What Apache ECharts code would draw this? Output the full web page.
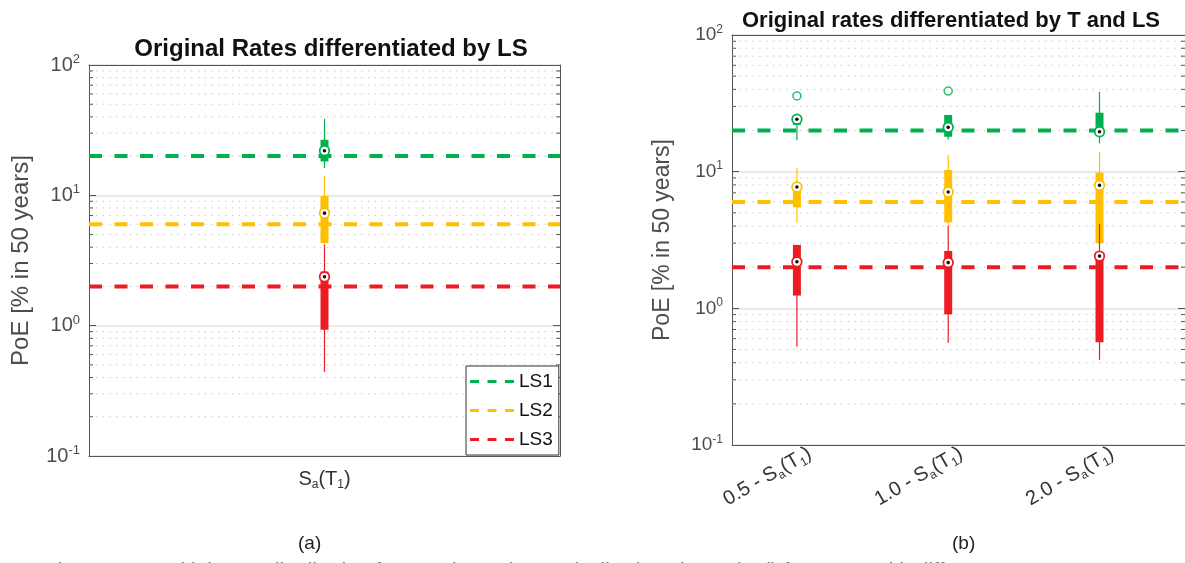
<!DOCTYPE html>
<html><head><meta charset="utf-8">
<script src="https://cdn.jsdelivr.net/npm/echarts@6/dist/echarts.min.js"></script>
<style>html,body{margin:0;padding:0;background:#fff}#c{width:1185px;height:563px}</style>
</head><body><div id="c"></div><script>
// ---------- data ----------
const lsNames = ['LS1', 'LS2', 'LS3'];
const lsColors = ['#00b050', '#ffc000', '#ed1c24'];
const lsThresholds = [20, 6, 2];
const leftCategories = ['S_a(T_1)'];
const rightCategories = ['0.5', '1.0', '2.0'];
// [low whisker, q1, median, q3, high whisker]
const leftLS1 = [[16.2, 18.2, 22.0, 26.7, 38.6]];
const leftLS2 = [[4.3, 4.3, 7.3, 9.9, 14.1]];
const leftLS3 = [[0.44, 0.93, 2.37, 2.6, 4.19]];
const rightLS1 = [[17.0, 22.0, 24.2, 25.8, 25.8], [17.3, 18.0, 21.1, 26.0, 26.0], [16.1, 19.5, 19.6, 27.0, 38.3]];
const rightLS2 = [[4.19, 5.48, 7.73, 8.0, 10.6], [4.0, 4.26, 7.1, 10.3, 13.2], [2.99, 2.99, 7.94, 9.83, 14.0]];
const rightLS3 = [[0.524, 1.24, 2.19, 2.91, 2.91], [0.561, 0.904, 2.16, 2.63, 4.0], [0.42, 0.564, 2.41, 2.5, 4.14]];
const rightLS1Outliers = [[1, 35.8], [2, 38.9]];
const minorTicks = [0.2, 0.3, 0.4, 0.5, 0.6, 0.7, 0.8, 0.9, 2, 3, 4, 5, 6, 7, 8, 9, 20, 30, 40, 50, 60, 70, 80, 90];
const yMin = 0.1, yMax = 100;
const xRangeLeft = [0.5, 1.5];
const xRangeRight = [0.571, 3.565];
const rightLabelPositions = [1.085, 2.085, 3.085];

// ---------- helpers ----------
const FONT = 'Liberation Sans, Arial, Helvetica, sans-serif';
const labelGray = '#4d4d4d';
const axisGray = '#555';

function supLabel(v) {
  return '{b|10}{s|' + Math.round(Math.log10(v)) + '}';
}
function saLabel(prefix) {
  return (prefix ? '{m|' + prefix + ' - S}' : '{m|S}') + '{sub|a}{m|(T}{sub|1}{m|)}';
}
const saRich = {
  m: { fontSize: 20, color: '#333', lineHeight: 24, fontFamily: FONT },
  sub: { fontSize: 12, color: '#333', lineHeight: 12, verticalAlign: 'bottom', fontFamily: FONT }
};

function makeGridDecor(xMin) {
  return function (params, api) {
    const cs = params.coordSys;
    const y = api.coord([xMin, api.value(1)])[1];
    return {
      type: 'group',
      children: [
        { type: 'line', shape: { x1: cs.x, y1: y, x2: cs.x + cs.width, y2: y },
          style: { stroke: '#c8c8c8', lineWidth: 1, lineDash: [1.5, 5.3] } },
        { type: 'line', shape: { x1: cs.x, y1: y, x2: cs.x + 4, y2: y },
          style: { stroke: axisGray, lineWidth: 1 } },
        { type: 'line', shape: { x1: cs.x + cs.width - 4, y1: y, x2: cs.x + cs.width, y2: y },
          style: { stroke: axisGray, lineWidth: 1 } }
      ]
    };
  };
}

function renderBox(params, api) {
  const x = api.value(0);
  const pLow = api.coord([x, api.value(1)]);
  const pQ1 = api.coord([x, api.value(2)]);
  const pMed = api.coord([x, api.value(3)]);
  const pQ3 = api.coord([x, api.value(4)]);
  const pHigh = api.coord([x, api.value(5)]);
  const color = api.visual('color');
  return {
    type: 'group',
    children: [
      { type: 'line', shape: { x1: pLow[0], y1: pLow[1], x2: pHigh[0], y2: pHigh[1] },
        style: { stroke: color, lineWidth: 1.2 } },
      { type: 'rect', shape: { x: pQ1[0] - 4, y: pQ3[1], width: 8, height: Math.max(pQ1[1] - pQ3[1], 0) },
        style: { fill: color } },
      { type: 'circle', shape: { cx: pMed[0], cy: pMed[1], r: 4.8 },
        style: { fill: '#fff', stroke: color, lineWidth: 1.8 } },
      { type: 'circle', shape: { cx: pMed[0], cy: pMed[1], r: 1.8 },
        style: { fill: '#111' } }
    ]
  };
}

function yAxes(gridIndex, nameGap, labelSize, nameSize) {
  const base = {
    type: 'log', logBase: 10, min: yMin, max: yMax, gridIndex: gridIndex
  };
  return [
    Object.assign({}, base, {
      position: 'left',
      axisLine: { show: true, lineStyle: { color: axisGray, width: 1 } },
      axisTick: { show: true, inside: true, length: 7, lineStyle: { color: axisGray } },
      axisLabel: {
        formatter: supLabel, margin: 9,
        rich: {
          b: { fontSize: labelSize, color: labelGray, lineHeight: labelSize + 4, fontFamily: FONT },
          s: { fontSize: Math.round(labelSize * 0.65), color: labelGray, lineHeight: 12, verticalAlign: 'top', fontFamily: FONT }
        }
      },
      splitLine: { show: true, lineStyle: { color: '#e2e2e2', width: 1.5 } },
      name: 'PoE [% in 50 years]', nameLocation: 'middle', nameGap: nameGap,
      nameTextStyle: { fontSize: nameSize, color: labelGray, fontFamily: FONT }
    }),
    Object.assign({}, base, {
      position: 'right',
      axisLine: { show: true, lineStyle: { color: axisGray, width: 1 } },
      axisTick: { show: true, inside: true, length: 7, lineStyle: { color: axisGray } },
      axisLabel: { show: false },
      splitLine: { show: false }
    })
  ];
}

function xAxes(gridIndex, range, customValues, formatter, rotate, margin) {
  return [
    {
      type: 'value', gridIndex: gridIndex, min: range[0], max: range[1], position: 'bottom',
      axisLine: { show: true, onZero: false, lineStyle: { color: axisGray, width: 1 } },
      axisTick: { show: false },
      splitLine: { show: false },
      axisLabel: { customValues: customValues, formatter: formatter, rotate: rotate, margin: margin, rich: saRich }
    },
    {
      type: 'value', gridIndex: gridIndex, min: range[0], max: range[1], position: 'top',
      axisLine: { show: true, onZero: false, lineStyle: { color: axisGray, width: 1 } },
      axisTick: { show: false }, axisLabel: { show: false }, splitLine: { show: false }
    }
  ];
}

function leftLabel(v) { return saLabel(''); }
function rightLabel(v) { return saLabel(rightCategories[Math.round(v) - 1]); }

const series = [];
function addChart(xIdx, yIdx, range, boxes, outliers) {
  series.push({
    type: 'custom', xAxisIndex: xIdx, yAxisIndex: yIdx, silent: true, z: 1,
    renderItem: makeGridDecor(range[0]),
    data: minorTicks.map(v => [range[0], v]),
    encode: { x: 0, y: 1 }
  });
  lsNames.forEach((n, i) => {
    series.push({
      type: 'line', name: n, xAxisIndex: xIdx, yAxisIndex: yIdx, z: 2,
      symbol: 'none', silent: true,
      data: [[range[0], lsThresholds[i]], [range[1], lsThresholds[i]]],
      lineStyle: { color: lsColors[i], width: 4, type: [13, 12.5] },
      itemStyle: { color: lsColors[i] }
    });
  });
  boxes.forEach((arr, i) => {
    series.push({
      type: 'custom', name: lsNames[i] + ' box', xAxisIndex: xIdx, yAxisIndex: yIdx, z: 3 + i,
      renderItem: renderBox,
      itemStyle: { color: lsColors[i] },
      data: arr.map((d, k) => [k + 1].concat(d)),
      encode: { x: 0, y: [1, 2, 3, 4, 5] }
    });
  });
  if (outliers) {
    series.push({
      type: 'scatter', name: 'LS1 outliers', xAxisIndex: xIdx, yAxisIndex: yIdx, z: 6,
      symbol: 'circle', symbolSize: 8,
      itemStyle: { color: '#fff', borderColor: lsColors[0], borderWidth: 1.6 },
      data: outliers
    });
  }
}
addChart(0, 0, xRangeLeft, [leftLS1, leftLS2, leftLS3], null);
addChart(2, 2, xRangeRight, [rightLS1, rightLS2, rightLS3], rightLS1Outliers);

const dashIcon = 'path://M0,0h9v3h-9z M17.5,0h9v3h-9z M35,0h9v3h-9z';

const option = {
  animation: false,
  backgroundColor: '#fff',
  textStyle: { fontFamily: FONT },
  title: [
    { text: 'Original Rates differentiated by LS', left: 326, top: 32, textAlign: 'center',
      textStyle: { fontSize: 24, fontWeight: 'bold', color: '#111', fontFamily: FONT } },
    { text: 'Original rates differentiated by T and LS', left: 946, top: 5, textAlign: 'center',
      textStyle: { fontSize: 22, fontWeight: 'bold', color: '#111', fontFamily: FONT } }
  ],
  legend: {
    orient: 'vertical', left: 466, top: 366,
    data: lsNames.map(n => ({ name: n, icon: dashIcon })),
    itemWidth: 44, itemHeight: 3, itemGap: 10,
    padding: [6, 6, 6, 4],
    borderColor: '#333', borderWidth: 1, backgroundColor: '#fff',
    itemStyle: { borderWidth: 0 },
    textStyle: { fontSize: 19, color: '#111', fontFamily: FONT },
    selectedMode: false, z: 20
  },
  grid: [
    { left: 89, top: 65, width: 471, height: 391 },
    { left: 732, top: 35, width: 454, height: 410 }
  ],
  xAxis: [].concat(
    xAxes(0, xRangeLeft, [1], leftLabel, 0, 11),
    xAxes(1, xRangeRight, rightLabelPositions, rightLabel, 30, 7)
  ),
  yAxis: [].concat(yAxes(0, 56, 20, 24), yAxes(1, 58, 19, 23)),
  series: series,
  graphic: [
    { type: 'text', left: 298, top: 534, style: { text: '(a)', fontSize: 19, fill: '#222', fontFamily: FONT } },
    { type: 'text', left: 952, top: 534, style: { text: '(b)', fontSize: 19, fill: '#222', fontFamily: FONT } },
    { type: 'text', x: 45, y: 561, style: { text: 'Figure 4.12: Initial MAF distribution for LS1 (green), LS2 (yellow) and LS3 (red) for SDoF with diff', fontSize: 21, fill: '#777', fontFamily: FONT, verticalAlign: 'top' } }
  ]
};
const chart = echarts.init(document.getElementById('c'), null, { renderer: 'canvas' });
chart.setOption(option);
</script></body></html>
